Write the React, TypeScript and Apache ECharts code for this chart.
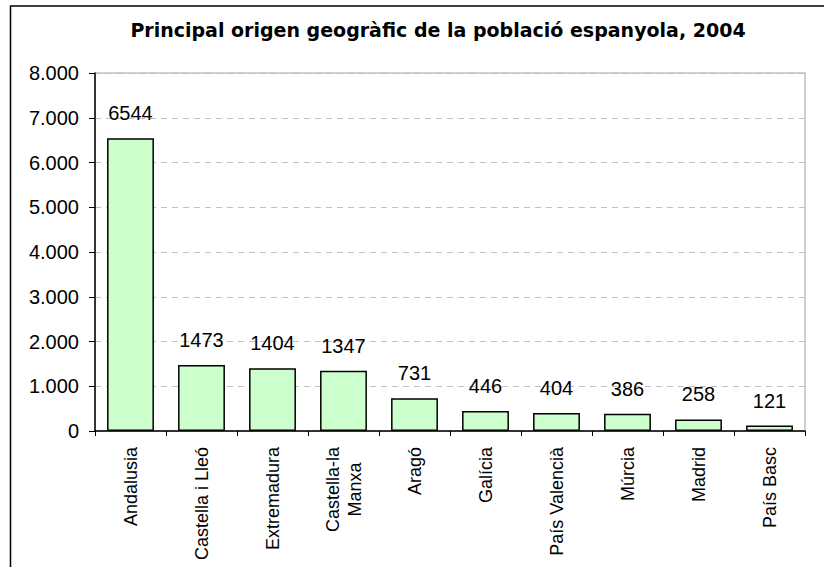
import React, { useEffect, useRef } from "react";
import * as echarts from "echarts";

const titleText = "Principal origen geogràfic de la població espanyola, 2004";
const categories = [
  "Andalusia",
  "Castella i Lleó",
  "Extremadura",
  "Castella-la\nManxa",
  "Aragó",
  "Galícia",
  "País Valencià",
  "Múrcia",
  "Madrid",
  "País Basc",
];
const values = [6544, 1473, 1404, 1347, 731, 446, 404, 386, 258, 121];
const yMin = 0;
const yMax = 8000;
const yStep = 1000;

const FONT = '"Liberation Sans", Arial, sans-serif';
const LABEL_SIZE = 18;

function formatThousands(v: number): string {
  return String(v).replace(/\B(?=(\d{3})+(?!\d))/g, ".");
}

function measure(text: string, size: number): number {
  const c = document.createElement("canvas").getContext("2d");
  if (!c) return text.length * size * 0.5;
  c.font = size + "px " + FONT;
  return c.measureText(text).width;
}

export default function App() {
  const ref = useRef<HTMLDivElement>(null);
  useEffect(() => {
    if (!ref.current) return;
    const chart = echarts.init(ref.current, undefined, { renderer: "svg" });
    // multi-line category labels: centre the lines within the longest one
    const xData = categories.map((c) => {
      if (c.indexOf("\n") < 0) return c;
      const w = Math.max(...c.split("\n").map((s) => measure(s, LABEL_SIZE)));
      return {
        value: c,
        textStyle: { align: "center", padding: [0, Math.round(w), 0, 0] },
      };
    });
    chart.setOption({
      animation: false,
      backgroundColor: "#ffffff",
      title: {
        text: titleText,
        left: 433,
        top: 15,
        textAlign: "center",
        textStyle: {
          fontFamily: '"DejaVu Sans", sans-serif',
          fontWeight: "bold",
          fontSize: 19,
          color: "#000000",
        },
      },
      graphic: [
        {
          type: "rect",
          shape: { x: 10.5, y: 6, width: 900, height: 700 },
          style: { fill: "none", stroke: "#000000", lineWidth: 1.5 },
          silent: true,
        },
      ],
      grid: {
        left: 95,
        top: 73,
        right: 19,
        bottom: 136,
        show: true,
        borderColor: "#c0c0c0",
        borderWidth: 1.5,
        containLabel: false,
      },
      xAxis: {
        type: "category",
        data: xData,
        axisLine: { show: true, lineStyle: { color: "#000000", width: 1.5 } },
        axisTick: {
          show: true,
          alignWithLabel: false,
          interval: 0,
          length: 5,
          lineStyle: { color: "#000000", width: 1 },
        },
        axisLabel: {
          interval: 0,
          rotate: 90,
          margin: 16,
          fontFamily: FONT,
          fontSize: LABEL_SIZE,
          color: "#000000",
          lineHeight: 22,
        },
        splitLine: { show: false },
      },
      yAxis: {
        type: "value",
        min: yMin,
        max: yMax,
        interval: yStep,
        axisLine: { show: true, lineStyle: { color: "#000000", width: 1.5 } },
        axisTick: { show: true, length: 6, lineStyle: { color: "#000000", width: 1 } },
        axisLabel: {
          margin: 16,
          fontFamily: FONT,
          fontSize: 20,
          color: "#000000",
          formatter: (v: number) => formatThousands(v),
        },
        splitLine: {
          show: true,
          lineStyle: { color: "#c0c0c0", width: 1, type: [6, 5] },
        },
      },
      series: [
        {
          type: "bar",
          data: values,
          barWidth: "66%",
          itemStyle: {
            color: "#ccffcc",
            borderColor: "#000000",
            borderWidth: 1.5,
          },
          label: {
            show: true,
            position: "top",
            distance: 15,
            fontFamily: FONT,
            fontSize: 20,
            color: "#000000",
          },
        },
      ],
    });
    return () => chart.dispose();
  }, []);
  return (
    <div
      ref={ref}
      style={{ position: "absolute", left: 0, top: 0, width: 824, height: 567, background: "#fff" }}
    />
  );
}
